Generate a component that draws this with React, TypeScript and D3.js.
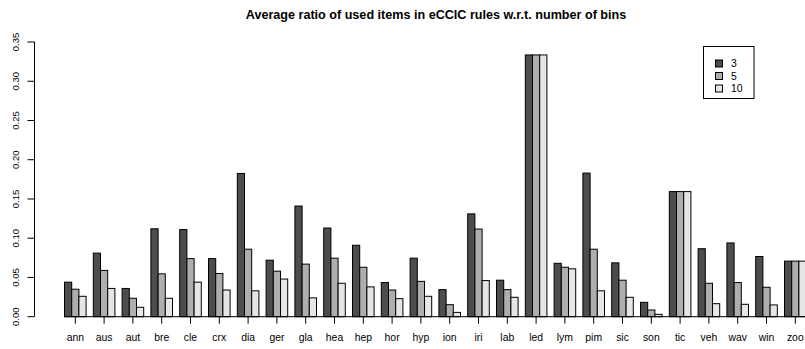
import React from "react";
import * as d3 from "d3";

const categories = ["ann","aus","aut","bre","cle","crx","dia","ger","gla","hea","hep","hor","hyp","ion","iri","lab","led","lym","pim","sic","son","tic","veh","wav","win","zoo"];
const seriesNames = ["3","5","10"];
const bins3 =  [0.044,0.081,0.036,0.112,0.111,0.074,0.1825,0.072,0.141,0.113,0.091,0.0435,0.0746,0.0345,0.131,0.0465,0.3335,0.068,0.183,0.0686,0.0183,0.1594,0.0866,0.094,0.0767,0.0708];
const bins5 =  [0.035,0.059,0.0235,0.0546,0.074,0.055,0.086,0.058,0.067,0.0746,0.063,0.034,0.045,0.0153,0.1117,0.0345,0.3335,0.063,0.086,0.0465,0.0085,0.1594,0.0426,0.0435,0.0375,0.0708];
const bins10 = [0.026,0.036,0.012,0.0235,0.044,0.034,0.033,0.048,0.024,0.0426,0.038,0.023,0.026,0.0055,0.046,0.0247,0.3335,0.061,0.033,0.0247,0.003,0.1594,0.0166,0.0158,0.015,0.0708];
const yTicks = [0, 0.05, 0.1, 0.15, 0.2, 0.25, 0.3, 0.35];
const colors = ["#4D4D4D", "#AEAEAE", "#E6E6E6"];
const title = "Average ratio of used items in eCCIC rules w.r.t. number of bins";

export default function App() {
  const W = 805, H = 349;
  const series = [bins3, bins5, bins10];
  const x0 = d3.scaleBand<string>().domain(categories).range([64.5, 806.1]).paddingInner(0.25).paddingOuter(0);
  const x1 = d3.scaleBand<string>().domain(seriesNames).range([0, x0.bandwidth()]).padding(0);
  const y = d3.scaleLinear().domain([0, 0.35]).range([316.7, 42]);
  const font = "'Liberation Sans', Arial, Helvetica, sans-serif";
  const axisX = 34.5;
  const fmt = d3.format(".2f");
  return (
    <svg width={W} height={H} style={{ position: "absolute", left: 0, top: 0, background: "#fff" }} fontFamily={font}>
      <rect x={0} y={0} width={W} height={H} fill="#fff" />
      <text x={436} y={19} textAnchor="middle" fontWeight="bold" fontSize={12.6}>{title}</text>
      {categories.map((c, i) => (
        <g key={c}>
          {series.map((s, j) => (
            <rect key={j} x={(x0(c) as number) + (x1(seriesNames[j]) as number)} y={y(s[i])}
              width={x1.bandwidth()} height={y(0) - y(s[i])} fill={colors[j]} stroke="#000" strokeWidth={1} />
          ))}
          <line x1={(x0(c) as number) + x0.bandwidth() / 2} x2={(x0(c) as number) + x0.bandwidth() / 2}
            y1={y(0)} y2={y(0) + 7} stroke="#000" />
          <text x={(x0(c) as number) + x0.bandwidth() / 2} y={341} textAnchor="middle" fontSize={10.4}>{c}</text>
        </g>
      ))}
      <line x1={x0(categories[0]) as number} x2={W} y1={y(0)} y2={y(0)} stroke="#000" />
      <line x1={axisX} x2={axisX} y1={y(0)} y2={y(0.35)} stroke="#000" />
      {yTicks.map((t) => (
        <g key={t}>
          <line x1={axisX - 7} x2={axisX} y1={y(t)} y2={y(t)} stroke="#000" />
          <text transform={`translate(${18.5},${y(t)}) rotate(-90)`} textAnchor="middle" fontSize={9.6}>{fmt(t)}</text>
        </g>
      ))}
      <g>
        <rect x={703.5} y={46.5} width={50.5} height={52} fill="none" stroke="#000" />
        {seriesNames.map((n, j) => (
          <g key={n}>
            <rect x={715.5} y={60 + j * 12.5} width={7} height={7} fill={colors[j]} stroke="#000" />
            <text x={731} y={67.3 + j * 12.5} fontSize={10.4}>{n}</text>
          </g>
        ))}
      </g>
    </svg>
  );
}
